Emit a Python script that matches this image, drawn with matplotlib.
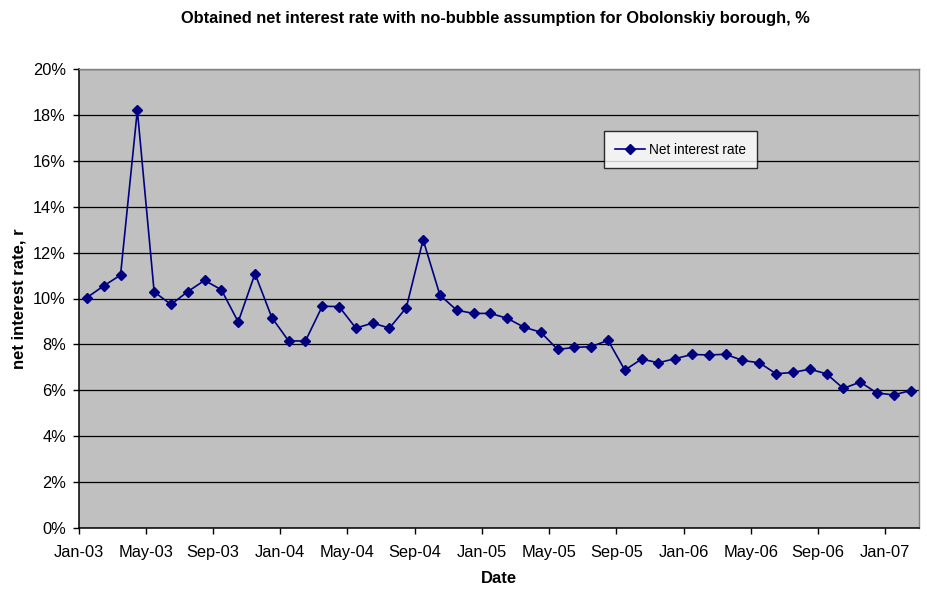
import numpy as np
import matplotlib
matplotlib.use("Agg")
import matplotlib.pyplot as plt
from matplotlib.ticker import FuncFormatter, FixedLocator

plt.rcParams['font.family'] = ['Liberation Sans', 'DejaVu Sans']

# Monthly observations, Jan-03 .. Feb-07
month_labels = [f"{m}-{y:02d}" for y in range(3, 8)
                for m in ["Jan", "Feb", "Mar", "Apr", "May", "Jun",
                          "Jul", "Aug", "Sep", "Oct", "Nov", "Dec"]][:50]

net_rate = [
    10.04, 10.55, 11.02, 18.21, 10.29, 9.74, 10.30, 10.79, 10.38, 8.98,
    11.08, 9.17, 8.15, 8.15, 9.66, 9.65, 8.71, 8.93, 8.71, 9.60,
    12.56, 10.15, 9.49, 9.35, 9.35, 9.14, 8.75, 8.53, 7.78, 7.87,
    7.90, 8.18, 6.88, 7.36, 7.20, 7.38, 7.56, 7.54, 7.57, 7.30,
    7.20, 6.72, 6.78, 6.92, 6.72, 6.08, 6.36, 5.88, 5.80, 5.99,
]

tick_every = 4
series_name = "Net interest rate"
title = "Obtained net interest rate with no-bubble assumption for Obolonskiy borough, %"

fig = plt.figure(figsize=(9.27, 5.90), dpi=100)
ax = fig.add_axes([78.5 / 927, 1 - 528 / 590, (919 - 78.5) / 927, (528 - 69) / 590])
ax.set_facecolor("#C0C0C0")

# each month occupies one unit; points sit in the middle of their month
x = np.arange(len(net_rate)) + 0.5
ax.plot(x, net_rate, color="#000080", lw=1.2, marker="D", ms=4.6,
        mec="#000080", mfc="#000080", label=series_name, zorder=3)

ax.set_xlim(0, len(net_rate))
ax.set_ylim(0, 20)

xt = np.arange(0, len(net_rate), tick_every)
ax.xaxis.set_major_locator(FixedLocator(xt))
ax.set_xticklabels([month_labels[i] for i in xt])
ax.set_yticks(np.arange(0, 21, 2))
ax.yaxis.set_major_formatter(FuncFormatter(lambda v, p: f"{v:.0f}%"))

ax.grid(axis="y", color="black", lw=0.9, zorder=1)
ax.set_axisbelow(True)
ax.tick_params(axis="both", direction="out", length=4, width=1, labelsize=11.8,
               color="black")
ax.tick_params(axis="y", pad=5)
ax.tick_params(axis="x", pad=8)

for side in ("left", "bottom"):
    ax.spines[side].set_color("black")
    ax.spines[side].set_linewidth(1.1)
for side in ("top", "right"):
    ax.spines[side].set_color("#808080")
    ax.spines[side].set_linewidth(1.0)

ax.set_xlabel("Date", fontsize=12, fontweight="bold", labelpad=8)
ax.set_ylabel("net interest rate, r", fontsize=12, fontweight="bold", labelpad=5)
fig.text(0.534, 1 - 18 / 590, title, ha="center", va="center",
         fontsize=11.8, fontweight="bold")

leg = ax.legend(loc="upper left", bbox_to_anchor=(0.625, 0.865),
                frameon=True, fancybox=False, fontsize=9.8, borderaxespad=0,
                handlelength=2.2, borderpad=0.85, handletextpad=0.25)
leg.get_frame().set_edgecolor("black")
leg.get_frame().set_linewidth(1.0)
leg.get_frame().set_facecolor("white")

fig.savefig("out.png", dpi=100, facecolor="white")
